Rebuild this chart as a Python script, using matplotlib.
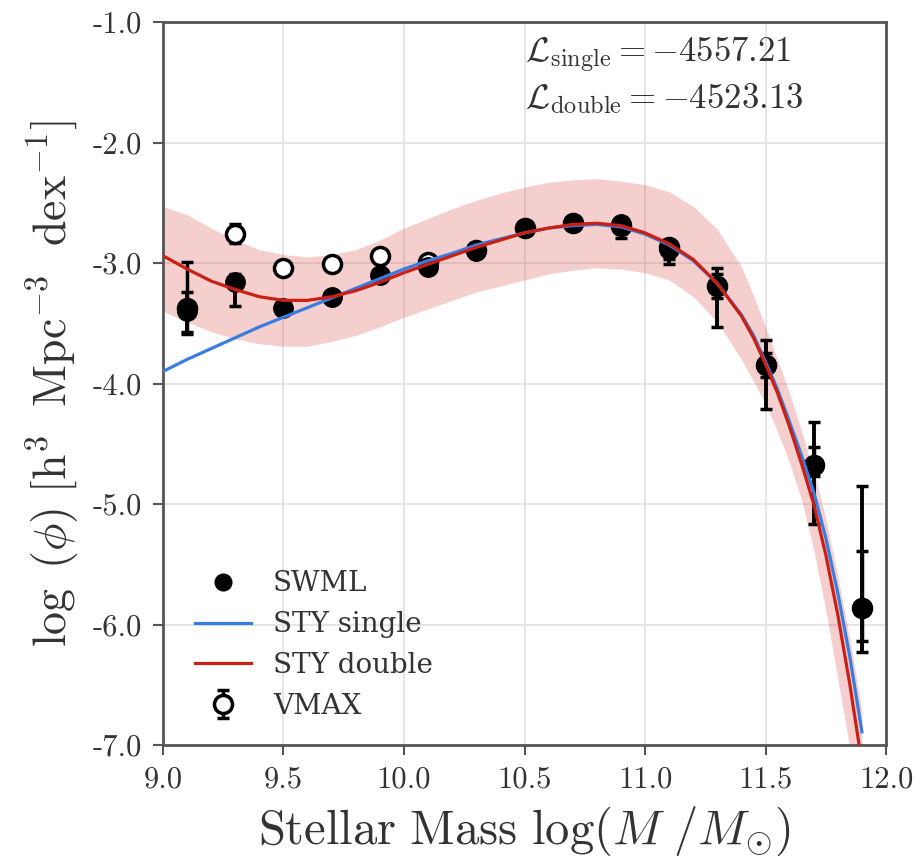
import matplotlib
matplotlib.use('Agg')
import matplotlib.pyplot as plt
from matplotlib.lines import Line2D
from matplotlib.ticker import FuncFormatter

plt.rcParams['mathtext.fontset'] = 'cm'

# binned luminosity-function points
mass_bins = [9.1, 9.3, 9.5, 9.7, 9.9, 10.1, 10.3, 10.5, 10.7, 10.9, 11.1, 11.3, 11.5, 11.7, 11.9]

swml_phi = [-3.40, -3.16, -3.37, -3.28, -3.10, -3.03, -2.90, -2.71, -2.67, -2.68, -2.88, -3.19, -3.85, -4.68, -5.86]
swml_err_lo = [0.19, 0.20, 0.05, 0.04, 0.03, 0.03, 0.02, 0.02, 0.02, 0.05, 0.13, 0.34, 0.36, 0.49, 0.37]
swml_err_hi = [0.16, 0.07, 0.04, 0.03, 0.03, 0.02, 0.02, 0.02, 0.02, 0.04, 0.07, 0.15, 0.21, 0.36, 1.01]

vmax_phi = [-3.37, -2.76, -3.04, -3.01, -2.94, -2.99, -2.89, -2.71, -2.67, -2.69, -2.87, -3.19, -3.85, -4.68, -5.86]
vmax_err_lo = [0.20, 0.07, 0.02, 0.02, 0.02, 0.02, 0.02, 0.03, 0.03, 0.10, 0.10, 0.10, 0.10, 0.09, 0.28]
vmax_err_hi = [0.38, 0.08, 0.02, 0.02, 0.02, 0.02, 0.02, 0.03, 0.03, 0.05, 0.05, 0.10, 0.10, 0.15, 0.47]

# STY fits
fit_mass = [9.0, 9.1, 9.2, 9.3, 9.4, 9.5, 9.6, 9.7, 9.8, 9.9,
            10.0, 10.1, 10.2, 10.3, 10.4, 10.5, 10.6, 10.7, 10.8, 10.9,
            11.0, 11.1, 11.2, 11.3, 11.4, 11.45, 11.5, 11.55, 11.6, 11.65,
            11.7, 11.75, 11.8, 11.85, 11.9]
sty_single = [-3.90, -3.80, -3.71, -3.62, -3.53, -3.45, -3.37, -3.29, -3.21, -3.13,
              -3.05, -2.98, -2.92, -2.85, -2.80, -2.75, -2.71, -2.69, -2.68, -2.70,
              -2.76, -2.85, -2.98, -3.17, -3.43, -3.60, -3.82, -4.05, -4.32, -4.60,
              -4.90, -5.28, -5.74, -6.27, -6.89]
sty_double = [-2.94, -3.05, -3.15, -3.22, -3.28, -3.31, -3.31, -3.28, -3.23, -3.16,
              -3.08, -3.01, -2.94, -2.87, -2.81, -2.75, -2.71, -2.68, -2.67, -2.69,
              -2.75, -2.84, -2.97, -3.17, -3.44, -3.62, -3.84, -4.08, -4.36, -4.67,
              -5.00, -5.42, -5.92, -6.50, -7.15]
band_hi = [-2.53, -2.60, -2.71, -2.81, -2.89, -2.93, -2.95, -2.93, -2.89, -2.81,
           -2.71, -2.63, -2.55, -2.48, -2.42, -2.37, -2.33, -2.31, -2.30, -2.32,
           -2.35, -2.41, -2.53, -2.72, -3.03, -3.27, -3.53, -3.80, -4.08, -4.40,
           -4.73, -5.12, -5.60, -6.12, -6.72]
band_lo = [-3.40, -3.49, -3.57, -3.63, -3.67, -3.69, -3.69, -3.65, -3.60, -3.53,
           -3.45, -3.38, -3.31, -3.24, -3.19, -3.14, -3.09, -3.06, -3.04, -3.05,
           -3.08, -3.14, -3.28, -3.49, -3.80, -3.98, -4.17, -4.40, -4.66, -4.97,
           -5.38, -5.88, -6.45, -7.03, -7.60]

L_single = -4557.21
L_double = -4523.13

fig = plt.figure(figsize=(9.24, 8.66), dpi=100)
ax = fig.add_axes([0.1764, 0.1397, 0.7825, 0.8349])

ax.fill_between(fit_mass, band_lo, band_hi, color='#d9534f', alpha=0.28,
                linewidth=0, zorder=1)

vm = ax.errorbar(mass_bins, vmax_phi, yerr=[vmax_err_lo, vmax_err_hi], fmt='o',
                 ms=13, mfc='white', mec='black', mew=2.5, ecolor='black',
                 elinewidth=2.5, capsize=4, capthick=2.5, zorder=3)
ax.errorbar(mass_bins, swml_phi, yerr=[swml_err_lo, swml_err_hi], fmt='o',
            ms=14, color='black', elinewidth=2.8, capsize=4, capthick=2.5, zorder=4)

ax.plot(fit_mass, sty_single, color='#3a7de0', lw=2.3, zorder=5)
ax.plot(fit_mass, sty_double, color='#cc1f14', lw=2.3, zorder=6)

ax.set_xlim(9.0, 12.0)
ax.set_ylim(-7.0, -1.0)
ax.set_xticks([9.0, 9.5, 10.0, 10.5, 11.0, 11.5, 12.0])
ax.set_yticks([-7.0, -6.0, -5.0, -4.0, -3.0, -2.0, -1.0])
fmt = FuncFormatter(lambda v, p: f'{v:.1f}')
ax.xaxis.set_major_formatter(fmt)
ax.yaxis.set_major_formatter(fmt)
for lab in ax.get_xticklabels() + ax.get_yticklabels():
    lab.set_fontfamily('cmr10')
    lab.set_fontsize(22)
    lab.set_color('#333333')

ax.tick_params(direction='out', length=7, width=1.5, color='#555555', pad=8)
ax.grid(True, color='#e3e3e3', lw=1.3, zorder=0)
ax.set_axisbelow(True)
for sp in ax.spines.values():
    sp.set_color('#555555')
    sp.set_linewidth(2)

ax.set_xlabel(r'$\mathrm{Stellar\ Mass}\ \log(M\ /M_{\odot})$', fontsize=35,
              color='#333333', labelpad=8)
ax.set_ylabel(r'$\log\ (\phi)\ [\mathrm{h}^3\ \ \mathrm{Mpc}^{-3}\ \ \mathrm{dex}^{-1}]$',
              fontsize=33, color='#333333', labelpad=8)

ax.text(0.50, 0.945, r'$\mathcal{L}_{\rm single}=-4557.21$', transform=ax.transAxes,
        fontsize=25, color='#333333', va='baseline', ha='left')
ax.text(0.50, 0.881, r'$\mathcal{L}_{\rm double}=-4523.13$', transform=ax.transAxes,
        fontsize=25, color='#333333', va='baseline', ha='left')

handles = [Line2D([], [], ls='none', marker='o', ms=12, color='black'),
           Line2D([], [], color='#3a7de0', lw=2.3),
           Line2D([], [], color='#cc1f14', lw=2.3),
           vm]
labels = ['SWML', 'STY single', 'STY double', 'VMAX']
leg = ax.legend(handles, labels, loc='lower left', bbox_to_anchor=(0.01, 0.0),
                frameon=False, prop={'family': 'DejaVu Serif', 'size': 20},
                handlelength=2.0, handletextpad=0.8, labelspacing=0.5)
for t in leg.get_texts():
    t.set_color('#333333')

fig.savefig('out.png', dpi=100)
